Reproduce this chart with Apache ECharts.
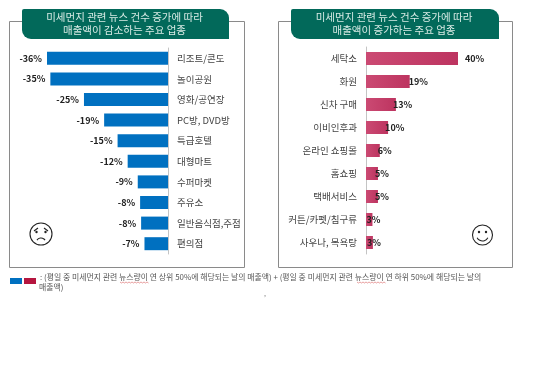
<!DOCTYPE html>
<html>
<head>
<meta charset="utf-8">
<style>
  html, body { margin: 0; padding: 0; background: #fff; }
  #chart { width: 540px; height: 366px; }
</style>
<script src="https://cdn.jsdelivr.net/npm/echarts@6/dist/echarts.min.js"></script>
</head>
<body>
<div id="chart"></div>
<script>
const downCategories = ['리조트/콘도', '놀이공원', '영화/공연장', 'PC방, DVD방', '특급호텔', '대형마트', '수퍼마켓', '주유소', '일반음식점,주점', '편의점']
const downValues = [-36, -35, -25, -19, -15, -12, -9, -8.3, -8, -7]
const downLabels = ['-36%', '-35%', '-25%', '-19%', '-15%', '-12%', '-9%', '-8%', '-8%', '-7%']

const upCategories = ['세탁소', '화원', '신차 구매', '이비인후과', '온라인 쇼핑몰', '홈쇼핑', '택배서비스', '커튼/카펫/침구류', '사우나, 목욕탕']
const upValues = [40, 19, 13, 9.6, 6, 5.2, 5.2, 2.8, 3]
const upLabels = ['40%', '19%', '13%', '10%', '6%', '5%', '5%', '3%', '3%']
const upLabelNudge = [7, -1, -3, -3, -2, -3, -3, -6, -6]

const font = '"Noto Sans CJK KR", "Noto Sans", sans-serif'
const titleLeft = ['미세먼지 관련 뉴스 건수 증가에 따라', '매출액이 감소하는 주요 업종']
const titleRight = ['미세먼지 관련 뉴스 건수 증가에 따라', '매출액이 증가하는 주요 업종']
const note1 = ': (평일 중 미세먼지 관련 뉴스량이 연 상위 50%에 해당되는 날의 매출액) + (평일 중 미세먼지 관련 뉴스량이 연 하위 50%에 해당되는 날의'
const note2 = '매출액)'

function frame (x, y, w, h) {
  return { type: 'rect', shape: { x: x, y: y, width: w, height: h }, style: { fill: 'none', stroke: '#8a8a8a', lineWidth: 1 } }
}
function titleBox (x, w, lines) {
  return [
    { type: 'rect', shape: { x: x, y: 9, width: w, height: 30, r: [2, 9, 0, 9] }, style: { fill: '#02695a' } },
    {
      type: 'text',
      style: { x: x + w / 2 - 1, y: 24, text: lines.join('\n'), fill: '#d8ebe5', font: '10.5px ' + font, lineHeight: 13, align: 'center', verticalAlign: 'middle' }
    }
  ]
}
function squiggle (x, w) {
  let pts = []
  for (let i = 0; i <= w / 1.5; i++) pts.push([x + i * 1.5, 282 + (i % 2)])
  return { type: 'polyline', shape: { points: pts }, style: { fill: 'none', stroke: '#d9605f', lineWidth: 0.6 } }
}

const face = { fill: 'none', stroke: '#222', lineWidth: 1.1 }
const graphics = [
  frame(9.5, 21.5, 235, 246),
  frame(278.5, 21.5, 234, 246)
].concat(titleBox(22, 207, titleLeft), titleBox(291, 208, titleRight), [
  // sad face
  { type: 'circle', shape: { cx: 41, cy: 234, r: 11 }, style: face },
  { type: 'arc', shape: { cx: 41, cy: 243, r: 5, startAngle: Math.PI * 1.2, endAngle: Math.PI * 1.8 }, style: face },
  { type: 'line', shape: { x1: 34, y1: 231, x2: 38, y2: 228 }, style: face },
  { type: 'line', shape: { x1: 48, y1: 231, x2: 44, y2: 228 }, style: face },
  { type: 'circle', shape: { cx: 36.5, cy: 232, r: 1.2 }, style: { fill: '#222' } },
  { type: 'circle', shape: { cx: 45.5, cy: 232, r: 1.2 }, style: { fill: '#222' } },
  // happy face
  { type: 'circle', shape: { cx: 482.5, cy: 235, r: 10 }, style: face },
  { type: 'arc', shape: { cx: 482.5, cy: 235, r: 6, startAngle: Math.PI * 0.15, endAngle: Math.PI * 0.85 }, style: face },
  { type: 'circle', shape: { cx: 479, cy: 232, r: 1.2 }, style: { fill: '#222' } },
  { type: 'circle', shape: { cx: 486, cy: 232, r: 1.2 }, style: { fill: '#222' } },
  // legend swatches and note
  { type: 'rect', shape: { x: 10, y: 278, width: 12, height: 6 }, style: { fill: '#0070c0' } },
  { type: 'rect', shape: { x: 24, y: 278, width: 12, height: 6 }, style: { fill: '#b5163f' } },
  { type: 'text', style: { x: 40, y: 277, text: note1, fill: '#555', font: '7.9px ' + font, verticalAlign: 'middle' } },
  { type: 'text', style: { x: 39, y: 286.5, text: note2, fill: '#555', font: '7.9px ' + font, verticalAlign: 'middle' } },
  squiggle(120, 29),
  squiggle(357, 29),
  { type: 'text', style: { x: 264, y: 290, text: ',', fill: '#777', font: '7px ' + font } }
])

let myChart = echarts.init(document.getElementById('chart'), null, { renderer: 'canvas' })
let option = {
  animation: false,
  backgroundColor: '#fff',
  graphic: graphics,
  grid: [
    { left: 47, top: 48, width: 121, height: 206 },
    { left: 366, top: 47, width: 92, height: 207 }
  ],
  xAxis: [
    { gridIndex: 0, type: 'value', min: -36, max: 0, show: false },
    { gridIndex: 1, type: 'value', min: 0, max: 40, show: false }
  ],
  yAxis: [
    {
      gridIndex: 0,
      type: 'category',
      inverse: true,
      position: 'right',
      data: downCategories,
      axisLine: { lineStyle: { color: '#c4c4c4' } },
      axisTick: { inside: true, length: 3, lineStyle: { color: '#c4c4c4' } },
      axisLabel: { margin: 9, color: '#444', fontSize: 9.5, fontFamily: font, align: 'left' }
    },
    {
      gridIndex: 1,
      type: 'category',
      inverse: true,
      position: 'left',
      data: upCategories,
      axisLine: { lineStyle: { color: '#c4c4c4' } },
      axisTick: { inside: true, length: 3, lineStyle: { color: '#c4c4c4' } },
      axisLabel: { margin: 9, color: '#444', fontSize: 9.5, fontFamily: font, align: 'right' }
    }
  ],
  series: [
    {
      type: 'bar',
      xAxisIndex: 0,
      yAxisIndex: 0,
      data: downValues,
      barWidth: 13,
      itemStyle: { color: '#0070c0' },
      label: {
        show: true,
        position: 'left',
        distance: 5,
        color: '#222',
        fontSize: 9,
        fontWeight: 'bold',
        fontFamily: font,
        formatter: function (params) { return downLabels[params.dataIndex] }
      }
    },
    {
      type: 'bar',
      xAxisIndex: 1,
      yAxisIndex: 1,
      data: upValues.map(function (v, i) {
        return { value: v, label: { offset: [upLabelNudge[i], 0] } }
      }),
      barWidth: 13,
      itemStyle: {
        color: new echarts.graphic.LinearGradient(0, 0, 1, 0, [
          { offset: 0, color: '#cb4a73' },
          { offset: 1, color: '#bd3460' }
        ])
      },
      label: {
        show: true,
        position: 'right',
        distance: 0,
        color: '#222',
        fontSize: 9,
        fontWeight: 'bold',
        fontFamily: font,
        formatter: function (params) { return upLabels[params.dataIndex] }
      }
    }
  ]
}
myChart.setOption(option, true)
</script>
</body>
</html>
